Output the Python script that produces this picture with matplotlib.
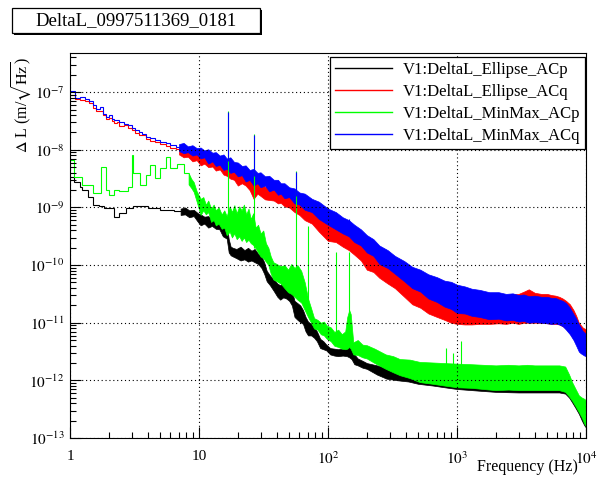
import numpy as np
import matplotlib
matplotlib.use('Agg')
import matplotlib.pyplot as plt
from matplotlib.patches import Rectangle
from matplotlib.lines import Line2D
from matplotlib.ticker import FixedLocator, FixedFormatter, LogLocator, NullFormatter

plt.rcParams['font.family'] = 'serif'
plt.rcParams['font.serif'] = ['Liberation Serif', 'DejaVu Serif']
plt.rcParams['mathtext.fontset'] = 'stix'

# ---- data (values stored as log10 of the amplitude spectral density, m/sqrt(Hz)) ----
title = 'DeltaL_0997511369_0181'
names = ['V1:DeltaL_Ellipse_ACp', 'V1:DeltaL_Ellipse_ACq',
         'V1:DeltaL_MinMax_ACp', 'V1:DeltaL_MinMax_ACq']
colors = ['black', '#ff0000', '#00ff00', '#0000ff']

xtick_vals = [1, 10, 100, 1000, 10000]
xtick_labels = ['1', '10', '$10^{2}$', '$10^{3}$', '$10^{4}$']
ytick_vals = [1e-13, 1e-12, 1e-11, 1e-10, 1e-9, 1e-8, 1e-7]
ytick_labels = ['$10^{-13}$', '$10^{-12}$', '$10^{-11}$', '$10^{-10}$',
                '$10^{-9}$', '$10^{-8}$', '$10^{-7}$']

# low frequency histogram steps (bin edges in Hz, log10 values)
black_edges = [1.0, 1.07, 1.2, 1.24, 1.37, 1.5, 1.68, 1.85, 2.2, 2.4, 2.7, 3.1, 4.0, 5.0, 6.4, 7.2]
black_steps = [-8.47, -8.55, -8.64, -8.70, -8.81, -8.95, -8.98, -9.01, -9.16, -9.10, -9.01, -8.97,
               -9.01, -9.04, -9.06]

red_edges = [1.0, 1.1, 1.2, 1.3, 1.4, 1.5, 1.6, 1.7, 1.8, 1.9, 2.0, 2.1, 2.2, 2.3, 2.4, 2.6,
             2.8, 3.0, 3.2, 3.4, 3.6, 3.9, 4.2, 4.6, 5.0, 5.5, 6.0, 6.6, 7.2]
red_steps = [-7.05, -7.11, -7.13, -7.15, -7.19, -7.28, -7.32, -7.33, -7.40, -7.46, -7.45, -7.50,
             -7.54, -7.52, -7.58, -7.57, -7.62, -7.66, -7.70, -7.74, -7.75, -7.81, -7.84, -7.87,
             -7.90, -7.93, -7.96, -7.98]

green_edges = [1.0, 1.07, 1.24, 1.5, 1.73, 1.9, 2.0, 2.2, 2.4, 2.8, 3.0, 3.1, 3.5, 3.85, 4.2,
               4.6, 5.0, 5.5, 6.0, 6.8, 7.6, 8.3]
green_steps = [-8.18, -8.47, -8.61, -8.75, -8.29, -8.70, -8.78, -8.70, -8.72, -8.64, -8.09,
               -8.41, -8.61, -8.44, -8.26, -8.49, -8.32, -8.12, -8.32, -8.24, -8.41]

blue_edges = [1.0, 1.1, 1.2, 1.3, 1.4, 1.5, 1.6, 1.7, 1.8, 1.9, 2.0, 2.1, 2.2, 2.3, 2.4, 2.6,
              2.8, 3.0, 3.2, 3.4, 3.6, 3.9, 4.2, 4.6, 5.0, 5.5, 6.0, 6.6, 7.2]
blue_steps = [-6.98, -7.10, -7.09, -7.12, -7.15, -7.23, -7.29, -7.26, -7.37, -7.43, -7.40, -7.46,
              -7.49, -7.48, -7.52, -7.55, -7.57, -7.62, -7.66, -7.69, -7.72, -7.77, -7.80, -7.83,
              -7.86, -7.89, -7.91, -7.95]

# noisy part of each trace: frequency, upper and lower edge of the band
black_f = [7.2, 7.8, 8.4, 9.1, 9.8, 10.3, 11.0, 11.8, 12.6, 13.5,
           14.4, 15.3, 16.4, 17.0, 17.6, 18.3, 19.5, 21, 22.5, 24,
           25.5, 27, 28.7, 30.5, 32, 33.5, 35.5, 38, 40.5, 42.6,
           45, 47.5, 50, 52.5, 55, 58, 61, 64, 67, 70,
           74, 78, 82, 87, 92, 97, 104, 112, 120, 130,
           140, 146, 152, 160, 170, 185, 200, 240, 284, 350,
           420, 500, 650, 800, 1000, 1500, 2000, 3000, 4000, 5000,
           6200, 6900, 7400, 7800, 8300, 8800, 9300, 9700, 10000]
black_hi = [-9.02, -9.00, -9.05, -9.04, -9.10, -9.12, -9.16, -9.15, -9.20, -9.18,
            -9.25, -9.30, -9.30, -9.55, -9.68, -9.70, -9.72, -9.68, -9.74, -9.70,
            -9.75, -9.72, -9.80, -9.85, -9.95, -10.10, -10.18, -10.25, -10.32, -10.35,
            -10.30, -10.30, -10.38, -10.45, -10.62, -10.66, -10.70, -10.78, -10.90, -10.98,
            -11.02, -11.08, -11.15, -11.28, -11.32, -11.38, -11.44, -11.45, -11.46, -11.45,
            -11.42, -11.36, -11.38, -11.55, -11.62, -11.66, -11.70, -11.74, -11.78, -11.82,
            -11.86, -11.88, -11.92, -11.94, -11.96, -11.98, -12.00, -12.00, -12.00, -12.00,
            -12.00, -12.03, -12.10, -12.18, -12.28, -12.38, -12.45, -12.50, -12.52]
black_lo = [-9.13, -9.12, -9.17, -9.15, -9.25, -9.31, -9.28, -9.35, -9.32, -9.37,
            -9.38, -9.50, -9.54, -9.78, -9.83, -9.85, -9.88, -9.92, -9.90, -9.94,
            -9.92, -9.95, -9.98, -10.05, -10.15, -10.28, -10.35, -10.45, -10.55, -10.60,
            -10.56, -10.58, -10.62, -10.70, -10.90, -10.95, -10.99, -11.02, -11.15, -11.22,
            -11.22, -11.26, -11.32, -11.44, -11.46, -11.48, -11.55, -11.57, -11.58, -11.57,
            -11.58, -11.60, -11.63, -11.72, -11.74, -11.78, -11.80, -11.90, -11.97, -12.00,
            -12.02, -12.06, -12.09, -12.12, -12.15, -12.18, -12.20, -12.21, -12.21, -12.21,
            -12.21, -12.23, -12.30, -12.38, -12.48, -12.58, -12.70, -12.78, -12.82]

acq_f = [7.0, 7.6, 8.2, 8.9, 9.6, 10.3, 11.0, 11.8, 12.7, 13.5,
         14.5, 15.5, 16.4, 17.5, 18.7, 20, 21.5, 23, 24.7, 26.5,
         28.4, 30, 32.5, 35, 38, 41, 43, 46, 50, 55,
         60, 66, 75, 85, 100, 115, 130, 145, 160, 180,
         200, 225, 250, 290, 330, 390, 450, 520, 600, 700,
         800, 900, 1000, 1150, 1300, 1500, 1780, 2100, 2400, 2700,
         3000, 3300, 3600, 4000, 4500, 5000, 5400, 5800, 6200, 6600,
         7000, 7500, 8000, 8400, 8800, 9100, 9400, 9700, 10000]
red_hi = [-7.95, -7.97, -7.99, -8.00, -8.04, -8.05, -8.10, -8.12, -8.16, -8.18,
          -8.22, -8.25, -8.30, -8.31, -8.36, -8.38, -8.44, -8.45, -8.52, -8.55,
          -8.58, -8.60, -8.64, -8.65, -8.69, -8.71, -8.73, -8.76, -8.80, -8.85,
          -8.90, -8.95, -9.02, -9.12, -9.25, -9.32, -9.42, -9.47, -9.55, -9.63,
          -9.74, -9.80, -9.90, -9.97, -10.05, -10.15, -10.25, -10.30, -10.38, -10.43,
          -10.47, -10.50, -10.52, -10.52, -10.52, -10.53, -10.52, -10.53, -10.52, -10.51,
          -10.50, -10.46, -10.42, -10.48, -10.50, -10.50, -10.52, -10.53, -10.55, -10.58,
          -10.62, -10.68, -10.78, -10.88, -11.00, -11.04, -11.08, -11.10, -11.12]
red_lo = [-8.08, -8.13, -8.12, -8.20, -8.18, -8.27, -8.24, -8.30, -8.29, -8.36,
          -8.34, -8.43, -8.45, -8.50, -8.52, -8.62, -8.58, -8.62, -8.70, -8.85,
          -8.76, -8.80, -8.86, -8.87, -8.88, -8.93, -8.92, -8.98, -9.00, -9.08,
          -9.13, -9.22, -9.28, -9.42, -9.58, -9.60, -9.68, -9.74, -9.82, -9.92,
          -10.08, -10.12, -10.22, -10.32, -10.40, -10.55, -10.68, -10.74, -10.84, -10.90,
          -10.95, -11.00, -11.02, -11.03, -11.03, -11.02, -11.02, -11.01, -11.02, -11.00,
          -11.02, -11.00, -11.00, -11.00, -11.00, -11.01, -11.02, -11.02, -11.03, -11.06,
          -11.10, -11.18, -11.28, -11.34, -11.40, -11.44, -11.48, -11.50, -11.50]

green_f = [8.3, 8.7, 9.1, 9.6, 10.3, 10.8, 11.3, 11.8, 12.4, 13.0,
           13.5, 14.2, 15.0, 15.7, 16.4, 17.3, 18.0, 18.8, 19.6, 20.5,
           21.4, 22.3, 23.2, 24.2, 25.2, 26.3, 27.5, 28.7, 30, 31.5,
           33, 34.5, 36, 37.7, 40, 43, 46, 49, 52, 55,
           58, 62, 66, 70, 74, 78, 83, 88, 93, 98,
           105, 112, 120, 128, 136, 141, 146, 150, 157, 170,
           185, 200, 230, 280, 320, 360, 430, 515, 650, 800,
           1000, 1300, 1600, 2000, 2500, 3000, 3500, 4000, 5000, 6200,
           6900, 7400, 7800, 8300, 8800, 9300, 9700, 10000]
green_hi = [-8.40, -8.50, -8.56, -8.72, -8.85, -8.82, -8.95, -8.88, -9.02, -8.95,
            -9.05, -9.00, -9.12, -9.05, -9.15, -8.98, -9.08, -8.96, -9.10, -8.98,
            -9.05, -8.95, -9.12, -9.02, -9.20, -9.10, -9.35, -9.30, -9.45, -9.40,
            -9.62, -9.70, -9.85, -9.95, -9.98, -10.02, -10.00, -10.08, -9.98, -10.05,
            -10.00, -10.10, -10.30, -10.58, -10.75, -10.92, -10.95, -11.00, -10.98, -11.05,
            -11.08, -11.16, -11.12, -11.20, -11.15, -10.90, -10.78, -10.85, -11.34, -11.30,
            -11.38, -11.39, -11.45, -11.55, -11.58, -11.63, -11.64, -11.68, -11.69, -11.70,
            -11.71, -11.72, -11.73, -11.74, -11.73, -11.74, -11.73, -11.74, -11.74, -11.74,
            -11.76, -11.90, -12.03, -12.15, -12.26, -12.30, -12.32, -12.35]
green_lo = [-8.60, -8.66, -8.73, -8.90, -9.13, -9.05, -9.12, -9.08, -9.25, -9.22,
            -9.31, -9.28, -9.37, -9.35, -9.48, -9.42, -9.52, -9.45, -9.55, -9.50,
            -9.58, -9.52, -9.60, -9.56, -9.62, -9.65, -9.71, -9.78, -9.85, -9.88,
            -9.94, -10.00, -10.15, -10.25, -10.28, -10.32, -10.40, -10.47, -10.50, -10.55,
            -10.60, -10.65, -10.78, -10.90, -11.00, -11.10, -11.12, -11.20, -11.22, -11.28,
            -11.32, -11.40, -11.42, -11.45, -11.46, -11.45, -11.42, -11.45, -11.55, -11.56,
            -11.60, -11.62, -11.70, -11.80, -11.86, -11.91, -11.96, -12.03, -12.06, -12.09,
            -12.12, -12.13, -12.15, -12.17, -12.16, -12.17, -12.17, -12.17, -12.17, -12.17,
            -12.20, -12.28, -12.35, -12.45, -12.55, -12.65, -12.75, -12.80]

blue_hi = [-7.90, -7.88, -7.94, -7.92, -7.97, -7.96, -8.01, -7.99, -8.05, -8.04,
           -8.10, -8.08, -8.15, -8.13, -8.21, -8.22, -8.28, -8.27, -8.35, -8.33,
           -8.40, -8.39, -8.46, -8.45, -8.52, -8.52, -8.58, -8.58, -8.65, -8.67,
           -8.74, -8.76, -8.85, -8.90, -9.02, -9.08, -9.17, -9.22, -9.30, -9.38,
           -9.48, -9.55, -9.66, -9.74, -9.84, -9.93, -10.03, -10.08, -10.16, -10.21,
           -10.27, -10.29, -10.34, -10.37, -10.41, -10.43, -10.47, -10.47, -10.50, -10.49,
           -10.52, -10.51, -10.54, -10.53, -10.55, -10.55, -10.57, -10.57, -10.60, -10.62,
           -10.66, -10.74, -10.85, -10.93, -11.03, -11.08, -11.14, -11.17, -11.20]
blue_lo = [-8.02, -8.06, -8.04, -8.10, -8.08, -8.15, -8.13, -8.24, -8.20, -8.28,
           -8.26, -8.35, -8.33, -8.40, -8.38, -8.46, -8.44, -8.55, -8.52, -8.62,
           -8.58, -8.65, -8.62, -8.72, -8.69, -8.78, -8.76, -8.84, -8.82, -8.93,
           -8.95, -9.04, -9.08, -9.20, -9.30, -9.38, -9.45, -9.50, -9.60, -9.66,
           -9.78, -9.84, -9.98, -10.05, -10.15, -10.28, -10.40, -10.46, -10.58, -10.64,
           -10.72, -10.76, -10.83, -10.84, -10.88, -10.90, -10.94, -10.93, -10.96, -10.95,
           -10.98, -10.97, -11.00, -10.99, -11.00, -11.01, -11.02, -11.01, -11.03, -11.06,
           -11.12, -11.20, -11.30, -11.40, -11.50, -11.53, -11.55, -11.57, -11.58]

# narrow lines: frequency, top, bottom
blue_spk_f = [16.9, 26.8, 56.3, 145]
blue_spk_top = [-7.35, -7.75, -8.38, -9.20]
blue_spk_bot = [-8.20, -8.45, -8.80, -9.45]
green_spk_f = [16.9, 26.8, 56.3, 70.5, 115, 145, 825, 929, 1077]
green_spk_top = [-7.33, -7.73, -8.36, -9.33, -9.77, -9.77, -11.44, -11.52, -11.31]
green_spk_bot = [-9.37, -9.71, -10.06, -10.87, -11.22, -10.81, -11.75, -11.75, -11.75]

YMIN = 1e-13
YMAX = 10 ** -6.32


def p(a):
    return np.power(10.0, np.asarray(a, dtype=float))


fig = plt.figure(figsize=(6.12, 4.79), dpi=100)
ax = fig.add_axes([70 / 612, 1 - 438 / 479, 516 / 612, 385 / 479])

series = [
    (black_edges, black_steps, black_f, black_lo, black_hi, None),
    (red_edges, red_steps, acq_f, red_lo, red_hi, None),
    (green_edges, green_steps, green_f, green_lo, green_hi,
     (green_spk_f, green_spk_bot, green_spk_top)),
    (blue_edges, blue_steps, acq_f, blue_lo, blue_hi,
     (blue_spk_f, blue_spk_bot, blue_spk_top)),
]

for (edges, steps, f, lo, hi, spk), c in zip(series, colors):
    ax.stairs(p(steps), edges, baseline=None, color=c, lw=0.8)
    ax.vlines(edges[0], YMIN, p(steps[0]), color=c, lw=1.2)
    ax.fill_between(f, p(lo), p(hi), color=c, lw=0.5, edgecolor=c)
    if spk is not None:
        ax.vlines(spk[0], p(spk[1]), p(spk[2]), color=c, lw=0.8)

ax.set_xscale('log')
ax.set_yscale('log')
ax.set_xlim(1, 1e4)
ax.set_ylim(YMIN, YMAX)

ax.xaxis.set_major_locator(FixedLocator(xtick_vals))
ax.xaxis.set_major_formatter(FixedFormatter(xtick_labels))
ax.yaxis.set_major_locator(FixedLocator(ytick_vals))
ax.yaxis.set_major_formatter(FixedFormatter(ytick_labels))
ax.xaxis.set_minor_locator(LogLocator(base=10, subs=np.arange(2, 10)))
ax.yaxis.set_minor_locator(LogLocator(base=10, subs=np.arange(2, 10), numticks=20))
ax.xaxis.set_minor_formatter(NullFormatter())
ax.yaxis.set_minor_formatter(NullFormatter())

ax.tick_params(which='both', direction='in', top=False, right=False, labelsize=11)
ax.tick_params(which='major', length=8, width=0.8)
ax.tick_params(which='minor', length=4.5, width=0.8)
ax.tick_params(axis='x', pad=9)
ax.tick_params(axis='y', pad=4)
for s in ax.spines.values():
    s.set_linewidth(0.8)

ax.grid(True, which='major', color='black', linestyle=(0, (1, 2.5)), linewidth=0.8)
ax.set_axisbelow(False)

ax.set_xlabel('Frequency (Hz)', fontsize=11.5, loc='right')
ax.xaxis.set_label_coords(0.985, -0.055)
ax.set_ylabel(r'$\Delta$ L (m/$\sqrt{\rm Hz}$)', fontsize=11.5, loc='top')
ax.yaxis.set_label_coords(-0.07, 0.99)

handles = [Line2D([], [], color=c, lw=1.0) for c in colors]
leg = ax.legend(handles, names, loc='upper right',
                bbox_to_anchor=(585 / 612, 1 - 57 / 479), bbox_transform=fig.transFigure,
                fontsize=12, frameon=True, fancybox=False, framealpha=1,
                edgecolor='black', borderaxespad=0, borderpad=0.3,
                handlelength=3.4, handletextpad=0.65, labelspacing=0.36)
leg.get_frame().set_linewidth(0.9)

# title pave with a thin shadow on the right and bottom
fig.patches.append(Rectangle((14 / 612, 1 - 35 / 479), 248 / 612, 25 / 479,
                             transform=fig.transFigure, facecolor='black',
                             edgecolor='black', lw=0))
fig.patches.append(Rectangle((12 / 612, 1 - 33 / 479), 248 / 612, 25 / 479,
                             transform=fig.transFigure, facecolor='white',
                             edgecolor='black', lw=0.9))
fig.text(136 / 612, 1 - 20.5 / 479, title, ha='center', va='center', fontsize=13.5)

fig.savefig('out.png', dpi=100)
